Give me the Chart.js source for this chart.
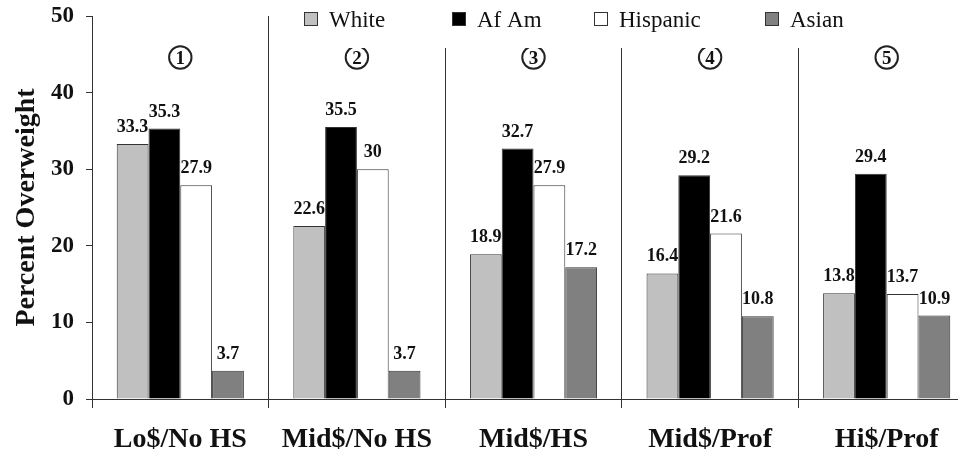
<!DOCTYPE html>
<html>
<head>
<meta charset="utf-8">
<script src="https://cdn.jsdelivr.net/npm/chart.js@4/dist/chart.umd.min.js"></script>
<style>
  html, body { margin: 0; padding: 0; background: #fff; overflow: hidden; width: 958px; height: 452px; }
  #wrap { position: absolute; left: 0; top: 0; width: 975px; height: 452px; }
</style>
</head>
<body>
<div id="wrap"><canvas id="c" width="975" height="452"></canvas></div>
<script>
// ---- data ----
const categories = ['Lo$/No HS', 'Mid$/No HS', 'Mid$/HS', 'Mid$/Prof', 'Hi$/Prof'];
const groupNumbers = ['1', '2', '3', '4', '5'];
const seriesNames = ['White', 'Af Am', 'Hispanic', 'Asian'];
const whiteValues = [33.3, 22.6, 18.9, 16.4, 13.8];
const afAmValues = [35.3, 35.5, 32.7, 29.2, 29.4];
const hispanicValues = [27.9, 30, 27.9, 21.6, 13.7];
const asianValues = [3.7, 3.7, 17.2, 10.8, 10.9];
const yTickValues = [0, 10, 20, 30, 40, 50];
const yAxisTitle = 'Percent Overweight';

// ---- styles ----
const seriesColors = ['#c0c0c0', '#000000', '#ffffff', '#808080'];
const lineColor = '#333333';
const serif = "'Liberation Serif', 'Times New Roman', serif";

const seriesValues = [whiteValues, afAmValues, hispanicValues, asianValues];
const datasets = seriesNames.map((name, i) => ({
  label: name,
  data: seriesValues[i],
  backgroundColor: seriesColors[i],
  borderColor: lineColor,
  borderWidth: 1,
  barPercentage: 1.0,
  categoryPercentage: 0.72
}));

const annotate = {
  id: 'annotate',
  afterDatasetsDraw(chart) {
    const ctx = chart.ctx;
    ctx.save();
    ctx.font = "bold 18px " + serif;
    ctx.fillStyle = '#111';
    ctx.textAlign = 'center';
    ctx.textBaseline = 'alphabetic';
    chart.data.datasets.forEach((ds, di) => {
      const meta = chart.getDatasetMeta(di);
      meta.data.forEach((bar, i) => {
        ctx.fillText(String(ds.data[i]), bar.x, bar.y - 12);
      });
    });
    ctx.restore();
  },
  afterDraw(chart) {
    const ctx = chart.ctx;
    const xs = chart.scales.x;
    ctx.save();
    groupNumbers.forEach((n, i) => {
      const cx = xs.getPixelForValue(i);
      const cy = 57.5;
      ctx.beginPath();
      ctx.arc(cx, cy, 11.2, 0, Math.PI * 2);
      ctx.lineWidth = 2;
      ctx.strokeStyle = '#222';
      ctx.stroke();
      ctx.font = "bold 19px " + serif;
      ctx.fillStyle = '#111';
      ctx.textAlign = 'center';
      ctx.textBaseline = 'alphabetic';
      ctx.fillText(n, cx, cy + 6.5);
    });
    ctx.restore();

    ctx.save();
    ctx.fillStyle = '#fff';
    ctx.fillRect(290, 0, 568, 48);
    const boxX = [304, 452, 594, 765];
    ctx.font = "23px " + serif;
    ctx.textAlign = 'left';
    ctx.textBaseline = 'alphabetic';
    chart.data.datasets.forEach((ds, i) => {
      const x = boxX[i];
      ctx.fillStyle = ds.backgroundColor;
      ctx.fillRect(x + 0.5, 12.5, 13, 13);
      ctx.strokeStyle = lineColor;
      ctx.lineWidth = 1;
      ctx.strokeRect(x + 0.5, 12.5, 13, 13);
      ctx.fillStyle = '#111';
      ctx.fillText(ds.label, x + 25, 27);
    });
    ctx.restore();
  }
};

new Chart(document.getElementById('c'), {
  type: 'bar',
  data: { labels: categories, datasets: datasets },
  options: {
    responsive: false,
    animation: false,
    devicePixelRatio: 1,
    layout: { padding: { top: 16, left: 0, right: 0, bottom: 0 } },
    plugins: { legend: { display: false }, tooltip: { enabled: false } },
    scales: {
      x: {
        type: 'category',
        offset: true,
        grid: {
          offset: true,
          display: true,
          drawOnChartArea: true,
          drawTicks: true,
          tickLength: 9,
          color: lineColor,
          lineWidth: 1
        },
        border: { display: true, color: lineColor, width: 1 },
        ticks: {
          color: '#111',
          font: { family: serif, size: 28, weight: 'bold' },
          padding: 15,
          maxRotation: 0,
          autoSkip: false
        },
        afterFit(scale) { scale.height = 53; scale.paddingLeft = 0; scale.paddingRight = 0; }
      },
      y: {
        min: 0,
        max: 50,
        afterBuildTicks(scale) { scale.ticks = yTickValues.map(v => ({ value: v })); },
        grid: {
          drawOnChartArea: false,
          drawTicks: true,
          tickLength: 6,
          color: lineColor,
          lineWidth: 1
        },
        border: { display: true, color: lineColor, width: 1 },
        ticks: {
          color: '#111',
          font: { family: serif, size: 23, weight: 'bold' },
          padding: 12
        },
        title: {
          display: true,
          text: yAxisTitle,
          color: '#111',
          font: { family: serif, size: 28, weight: 'bold' },
          padding: { top: 10, bottom: 0 }
        },
        afterFit(scale) { scale.width = 92; scale.paddingTop = 0; scale.paddingBottom = 0; }
      }
    }
  },
  plugins: [annotate]
});
</script>
</body>
</html>
